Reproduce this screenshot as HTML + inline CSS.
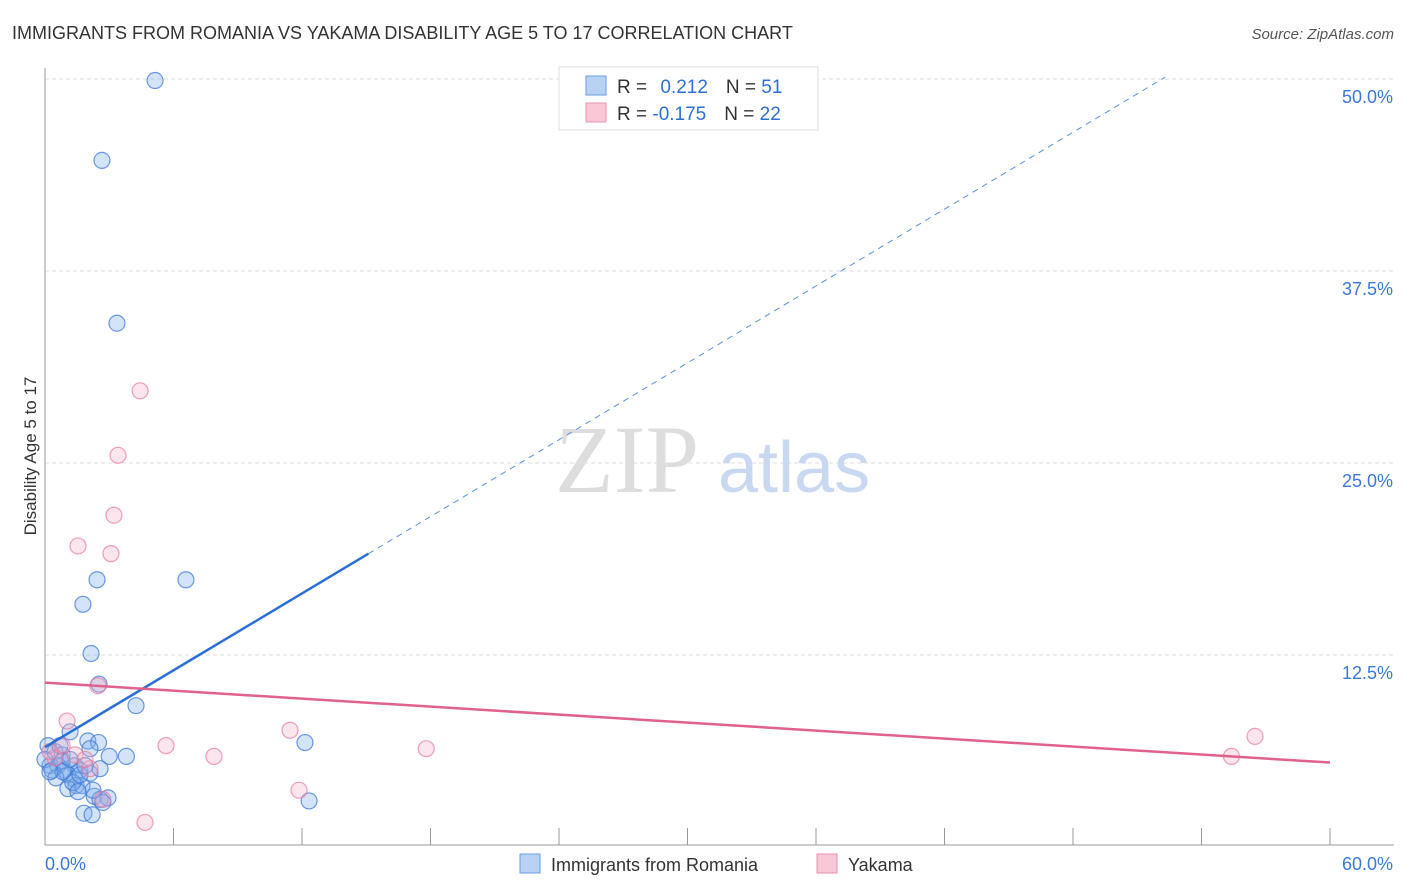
<!DOCTYPE html>
<html><head><meta charset="utf-8"><style>
body{margin:0;background:#fff;font-family:"Liberation Sans",sans-serif;}
svg{display:block}
</style></head><body>
<svg id="chart" width="1406" height="892">
<text x="12" y="39" font-size="18" fill="#333">IMMIGRANTS FROM ROMANIA VS YAKAMA DISABILITY AGE 5 TO 17 CORRELATION CHART</text>
<text x="1394" y="39" font-size="15" fill="#555" font-style="italic" text-anchor="end">Source: ZipAtlas.com</text>
<text x="36" y="456" font-size="17" fill="#333" text-anchor="middle" transform="rotate(-90 36 456)">Disability Age 5 to 17</text>
<g id="grid"></g>
<text x="555" y="492" font-size="96" fill="#ddd" font-family="Liberation Serif,serif">ZIP</text>
<text x="718" y="492" font-size="72" fill="#c8d8f0">atlas</text>
<g id="marks"></g>
<g>
<rect x="559" y="67" width="259" height="63" fill="#fff" stroke="#ddd"/>
<rect x="586" y="76" width="20" height="19" fill="#b8d2f4" stroke="#6a9ee0"/>
<rect x="586" y="103" width="20" height="19" fill="#f9c8d6" stroke="#e890aa"/>
<text x="617" y="93" font-size="19" fill="#333">R = <tspan fill="#2c6fd6" dx="8">0.212</tspan><tspan fill="#333" dx="18">N = </tspan><tspan fill="#2c6fd6">51</tspan></text>
<text x="617" y="120" font-size="19" fill="#333">R = <tspan fill="#2c6fd6">-0.175</tspan><tspan fill="#333" dx="18">N = </tspan><tspan fill="#2c6fd6">22</tspan></text>
</g>
<g>
<rect x="520" y="854" width="20" height="19" fill="#b8d2f4" stroke="#6a9ee0"/>
<text x="551" y="871" font-size="18" fill="#333">Immigrants from Romania</text>
<rect x="817" y="854" width="20" height="19" fill="#f9c8d6" stroke="#e890aa"/>
<text x="848" y="871" font-size="18" fill="#333">Yakama</text>
</g>
</svg>
<script>
const yTicks=[12.5,25,37.5,50];
const yTickLabels=["12.5%","25.0%","37.5%","50.0%"];
const xTicks=[0,6,12,18,24,30,36,42,48,54,60];
const blueX=[5.14,2.66,3.36,2.43,6.58,1.77,2.15,2.52,4.25,12.14,1.17,2.0,2.5,2.1,3.0,3.8,0.14,0.47,0.8,0.23,0.6,0.9,0.33,1.4,1.63,1.07,0.51,1.4,1.45,1.07,1.73,2.1,2.57,1.3,2.3,2.57,2.94,2.7,1.82,2.2,12.33,0.8,0,1.17,0.7,2.24,1.54,1.63,0.84,1.87,0.23];
const blueY=[49.9,44.7,34.1,17.4,17.4,15.8,12.6,10.6,9.2,6.8,7.5,6.9,6.8,6.4,5.9,5.9,6.6,6.2,6.0,5.3,5.3,5.0,5.0,5.3,5.0,4.7,4.5,4.4,4.0,3.8,4.0,4.8,5.1,4.2,3.3,3.1,3.2,2.9,2.2,2.1,3.0,5.6,5.7,5.7,6.6,3.7,3.6,4.7,4.9,5.3,4.9];
const pinkX=[4.44,3.41,3.22,1.54,3.08,2.47,1.03,5.65,7.89,11.44,17.8,11.86,4.67,56.5,55.4,2.1,0.8,0.47,2.7,1.4,0.23,1.87];
const pinkY=[29.7,25.5,21.6,19.6,19.1,10.5,8.2,6.6,5.9,7.6,6.4,3.7,1.6,7.2,5.9,5.1,6.6,5.8,3.1,6.0,6.2,5.7];
const blueTrend=[6.5,0.834];   // intercept, slope
const blueSolidEnd=15.1, blueDashEnd=52.3;
const pinkTrend=[10.7,-0.0867];
const NS="http://www.w3.org/2000/svg";
const X0=45,X1=1330,Y0=847,Y50=79;
const sx=v=>X0+(v/60)*(X1-X0);
const sy=v=>Y0-(v/50)*(Y0-Y50);
function mk(tag,attrs,parent){const e=document.createElementNS(NS,tag);for(const k in attrs)e.setAttribute(k,attrs[k]);parent.appendChild(e);return e;}
const grid=document.getElementById('grid'),marks=document.getElementById('marks');
yTicks.forEach((t,i)=>{
 const l=mk('line',{x1:X0,x2:1394,y1:sy(t),y2:sy(t),stroke:'#ddd','stroke-dasharray':'4,3'},grid);
 
 
 const tx=mk('text',{x:1393,y:sy(t)+24,'font-size':18,fill:'#3a78d8','text-anchor':'end'},grid);
 tx.textContent=yTickLabels[i];
 
 
});
const ax=mk('line',{x1:X0,x2:X0,y1:68,y2:845,stroke:'#999'},grid);


const bx=mk('line',{x1:X0,x2:1394,y1:845,y2:845,stroke:'#999'},grid);


xTicks.forEach(t=>{
 const l=mk('line',{x1:sx(t),x2:sx(t),y1:828,y2:845,stroke:'#999'},grid);
 
 
});
const xl0=mk('text',{x:45,y:870,'font-size':18,fill:'#3a78d8'},grid);xl0.textContent='0.0%';


const xl1=mk('text',{x:1393,y:870,'font-size':18,fill:'#3a78d8','text-anchor':'end'},grid);xl1.textContent='60.0%';


blueX.forEach((v,i)=>{
 const c=mk('circle',{cx:sx(v),cy:sy(blueY[i]),r:8,fill:'rgba(130,175,235,0.35)',stroke:'rgba(60,120,215,0.75)','stroke-width':1.2},marks);
 
 
});
pinkX.forEach((v,i)=>{
 const c=mk('circle',{cx:sx(v),cy:sy(pinkY[i]),r:8,fill:'rgba(245,170,195,0.3)',stroke:'rgba(230,120,155,0.7)','stroke-width':1.2},marks);
 
 
});
const bf=x=>blueTrend[0]+blueTrend[1]*x, pf=x=>pinkTrend[0]+pinkTrend[1]*x;
const b1=mk('line',{x1:sx(0),y1:sy(bf(0)),x2:sx(blueSolidEnd),y2:sy(bf(blueSolidEnd)),stroke:'#2a6fd6','stroke-width':2.5},marks);


const b2=mk('line',{x1:sx(blueSolidEnd),y1:sy(bf(blueSolidEnd)),x2:sx(blueDashEnd),y2:sy(bf(blueDashEnd)),stroke:'#5a8fdc','stroke-width':1,'stroke-dasharray':'6,5'},marks);


const p1=mk('line',{x1:sx(0),y1:sy(pf(0)),x2:sx(60),y2:sy(pf(60)),stroke:'#e0608e','stroke-width':2.5},marks);


</script>
</body></html>
